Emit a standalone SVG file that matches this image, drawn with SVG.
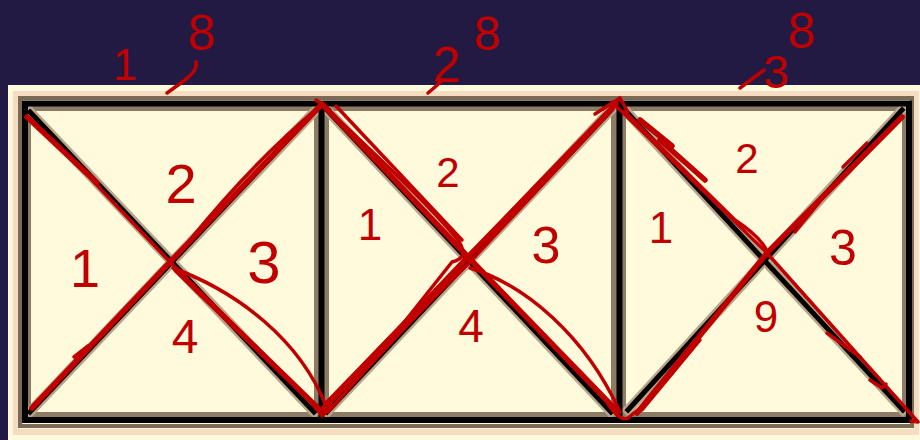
<svg xmlns="http://www.w3.org/2000/svg" width="920" height="440" viewBox="0 0 920 440">
<style>
.red{fill:none;stroke:#c00000;stroke-width:3.5;stroke-linecap:round;stroke-linejoin:round}
.redw{fill:none;stroke:#c00000;stroke-width:5.5;stroke-linecap:round;stroke-linejoin:round}
.lbl{font-family:"Liberation Sans",Arial,sans-serif;fill:#c00000;text-anchor:middle}
.halo{fill:none;stroke:#b8a488;stroke-width:10;stroke-linecap:square}
.diag{fill:none;stroke:#000;stroke-width:5;stroke-linecap:square}
</style>
<rect x="0" y="0" width="920" height="440" fill="#221a43"/>
<rect x="8" y="85" width="912" height="355" fill="#fffadc"/>
<g id="frame">
  <rect x="16" y="94" width="900" height="338" fill="none" stroke="#f6dcc0" stroke-width="6"/>
  <rect x="20" y="98" width="892" height="328" fill="none" stroke="#7a6a56" stroke-width="4"/>
  <g id="square1">
    <rect x="27" y="107" width="291" height="309" fill="#fffadc" stroke="#8c7c66" stroke-width="8"/>
    <line class="halo" x1="30" y1="112" x2="314" y2="412"/>
    <line class="halo" x1="30" y1="412" x2="314" y2="112"/>
    <line class="diag" x1="30" y1="112" x2="314" y2="412"/>
    <line class="diag" x1="30" y1="412" x2="314" y2="112"/>
  </g>
  <g id="square2">
    <rect x="325" y="107" width="290" height="309" fill="#fffadc" stroke="#8c7c66" stroke-width="8"/>
    <line class="halo" x1="327" y1="110" x2="611" y2="412"/>
    <line class="halo" x1="327" y1="412" x2="611" y2="110"/>
    <line class="diag" x1="327" y1="110" x2="611" y2="412"/>
    <line class="diag" x1="327" y1="412" x2="611" y2="110"/>
  </g>
  <g id="square3">
    <rect x="622" y="107" width="284" height="309" fill="#fffadc" stroke="#8c7c66" stroke-width="8"/>
    <line class="halo" x1="623" y1="108" x2="903" y2="410"/>
    <line class="halo" x1="628" y1="410" x2="902" y2="110"/>
    <line class="diag" x1="623" y1="108" x2="903" y2="410"/>
    <line class="diag" x1="628" y1="410" x2="902" y2="110"/>
  </g>
  <rect x="25" y="103.5" width="884" height="316.5" fill="none" stroke="#000" stroke-width="6"/>
  <line x1="321.5" y1="103" x2="321.5" y2="420" stroke="#000" stroke-width="6"/>
  <line x1="619.5" y1="103" x2="619.5" y2="420" stroke="#000" stroke-width="6"/>
</g>
<g id="labels">
  <text class="lbl" x="125" y="80" font-size="44">1</text>
  <text class="lbl" x="202" y="50" font-size="50">8</text>
  <text class="lbl" x="447" y="82" font-size="50">2</text>
  <text class="lbl" x="487" y="50" font-size="48">8</text>
  <text class="lbl" x="776" y="88" font-size="46">3</text>
  <text class="lbl" x="802" y="48" font-size="50">8</text>
  <text class="lbl" x="181" y="203" font-size="56">2</text>
  <text class="lbl" x="85" y="287" font-size="54">1</text>
  <text class="lbl" x="264" y="283" font-size="60">3</text>
  <text class="lbl" x="185" y="353" font-size="48">4</text>
  <text class="lbl" x="448" y="187" font-size="42">2</text>
  <text class="lbl" x="370" y="240" font-size="44">1</text>
  <text class="lbl" x="546" y="263" font-size="52">3</text>
  <text class="lbl" x="471" y="342" font-size="46">4</text>
  <text class="lbl" x="747" y="173" font-size="42">2</text>
  <text class="lbl" x="661" y="243" font-size="44">1</text>
  <text class="lbl" x="843" y="265" font-size="50">3</text>
  <text class="lbl" x="766" y="332" font-size="44">9</text>
</g>
<g id="strokes">
  <path class="red" d="M167,93 L185,80 Q198,70 196,62"/>
  <path class="red" d="M428,93 L442,81"/>
  <path class="red" d="M740,88 L764,70"/>
  <!-- square 1 -->
  <path class="redw" d="M27,117 L97,183"/>
  <path class="red" d="M92,180 L170,262 L320,410"/>
  <path class="redw" d="M176,270 L318,408"/>
  <path class="redw" d="M32,408 L170,262 L322,104"/>
  <path class="red" d="M190,240 Q255,160 320,106"/>
  <path class="red" d="M173,268 C238,292 300,340 326,406"/>
  <path class="red" d="M74,357 L88,346"/>
  <path class="red" d="M312,404 L322,416 L332,406"/>
  <!-- square 2 -->
  <path class="redw" d="M322,104 L468,257 L618,412"/>
  <path class="red" d="M330,112 Q420,195 458,240 Q470,258 452,262 L398,330"/>
  <path class="red" d="M336,106 L462,240"/>
  <path class="redw" d="M322,410 L468,257 L616,104"/>
  <path class="red" d="M328,412 Q400,330 470,262 L612,110"/>
  <path class="red" d="M325,404 L450,275"/>
  <path class="red" d="M470,268 C525,285 585,335 620,412"/>
  <path class="red" d="M316,100 L330,110"/>
  <path class="red" d="M595,114 L620,98"/>
  <path class="red" d="M608,404 Q620,422 628,418 L640,408"/>
  <!-- square 3 -->
  <path class="red" d="M612,102 L767,253 L918,422 L911,421"/>
  <path class="red" d="M610,106 L620,98 L628,112"/>
  <path class="red" d="M625,112 L735,220 Q765,240 768,255"/>
  <path class="redw" d="M640,120 L672,146"/>
  <path class="redw" d="M660,140 L705,180"/>
  <path class="redw" d="M637,413 L767,253 L902,117"/>
  <path class="red" d="M642,410 L700,340"/>
  <path class="red" d="M843,167 L867,143"/>
  <path class="red" d="M795,232 L825,195"/>
  <path class="red" d="M827,333 L860,357"/>
  <path class="red" d="M870,380 L882,388 L886,384"/>
</g>
</svg>
